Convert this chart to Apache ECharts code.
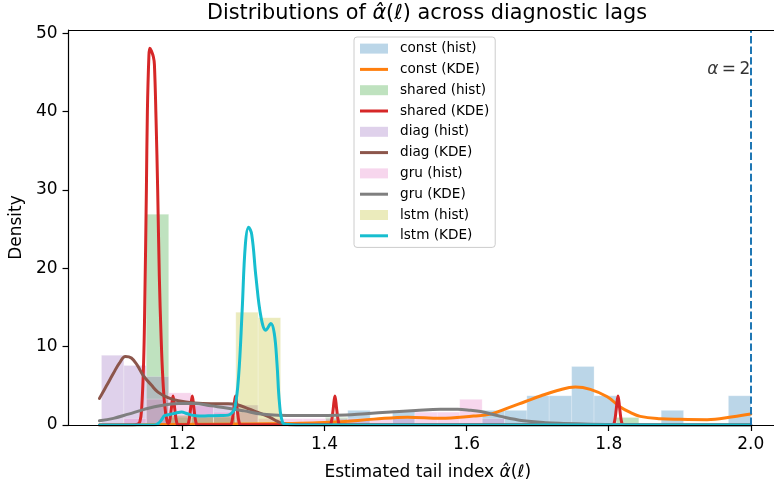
<!DOCTYPE html>
<html><head><meta charset="utf-8">
<script src="https://cdn.jsdelivr.net/npm/echarts@6/dist/echarts.min.js"></script>
<style>html,body{margin:0;padding:0;background:#fff}#c{width:774px;height:486px}</style>
</head><body><div id="c"></div>
<script>
// ---- data ----
const binEdges = [1.0860, 1.1175, 1.1490, 1.1806, 1.2121, 1.2436, 1.2751, 1.3066, 1.3381, 1.3697, 1.4012, 1.4327, 1.4642, 1.4957, 1.5272, 1.5588, 1.5903, 1.6218, 1.6533, 1.6848, 1.7163, 1.7479, 1.7794, 1.8109, 1.8424, 1.8739, 1.9054, 1.9370, 1.9685, 2.0000];

const constHist  = [0,0,0,0,0,0,0,0,0,0,0,1.87,0,1.87,0,0,0,1.87,1.87,3.73,3.73,7.46,3.73,0,0,1.87,0,0,3.73];
const sharedHist = [0,0,26.9,0.96,0.96,0.96,0,0,0,0,0.96,0,0,0,0,0,0,0,0,0,0,0,0,0.96,0,0,0,0,0];
const diagHist   = [8.9,7.6,6.2,1.27,2.54,2.54,2.54,0,0,0,0,0,0,0,0,0,0,0,0,0,0,0,0,0,0,0,0,0,0];
const gruHist    = [0,0.82,3.3,4.1,2.46,1.64,1.64,0.82,0.82,0.82,0.82,0.82,0.82,0.82,1.64,1.64,3.28,0.82,0,0,0,0,0,0,0,0,0,0,0];
const lstmHist   = [0,0,0,1.22,1.22,1.22,14.4,13.7,0,0,0,0,0,0,0,0,0,0,0,0,0,0,0,0,0,0,0,0,0];

const constKdeX = [1.0831, 1.1702, 1.2826, 1.3528, 1.3907, 1.4230, 1.4694, 1.5171, 1.5635, 1.6098, 1.6337, 1.6576, 1.6829, 1.7039, 1.7278, 1.7531, 1.7742, 1.7980, 1.8163, 1.8303, 1.8444, 1.8725, 1.9006, 1.9385, 1.9750, 2.0000];
const constKdeY = [0.0, 0.05, 0.12, 0.2, 0.28, 0.42, 0.75, 1.0, 0.85, 1.15, 1.39, 2.15, 3.0, 3.7, 4.4, 4.85, 4.55, 3.6, 2.3, 1.6, 1.1, 0.8, 0.72, 0.68, 1.05, 1.4];

const sharedKdeX = [1.0831, 1.1300, 1.1370, 1.1400, 1.1425, 1.1453, 1.1468, 1.1492, 1.1506, 1.1527, 1.1540, 1.1560, 1.1590, 1.1605, 1.1628, 1.1651, 1.1674, 1.1700, 1.1722, 1.1750, 1.1782, 1.1800, 1.1817, 1.1842, 1.1867, 1.1892, 1.1917, 1.1942, 1.2063, 1.2088, 1.2113, 1.2138, 1.2163, 1.2188, 1.2213, 1.2671, 1.2696, 1.2721, 1.2746, 1.2771, 1.2796, 1.2821, 1.4071, 1.4096, 1.4121, 1.4146, 1.4171, 1.4196, 1.4221, 1.8056, 1.8081, 1.8106, 1.8131, 1.8156, 1.8181, 1.8206, 2.0000];
const sharedKdeY = [0, 0, 0.1, 0.4, 2, 8, 14.7, 30, 40, 47, 48.1, 47.8, 47, 46, 39, 30, 19, 11, 6.2, 2.5, 0.5, 0.2, 0.4, 2.0, 3.7, 2.0, 0.4, 0.03, 0.03, 0.4, 2.0, 3.7, 2.0, 0.4, 0.03, 0.03, 0.4, 2.0, 3.7, 2.0, 0.4, 0.03, 0.03, 0.4, 2.0, 3.7, 2.0, 0.4, 0.03, 0.03, 0.4, 2.0, 3.7, 2.0, 0.4, 0.03, 0];

const diagKdeX = [1.0831, 1.0930, 1.1028, 1.1112, 1.1197, 1.1281, 1.1365, 1.1449, 1.1562, 1.1655, 1.1795, 1.1941, 1.2166, 1.2404, 1.2643, 1.2784, 1.2924, 1.3063, 1.3160, 1.3247, 1.3330, 1.3430, 1.3598, 2.0000];
const diagKdeY = [3.4, 5.0, 6.6, 7.9, 8.75, 8.55, 7.6, 6.3, 5.1, 4.2, 3.5, 3.1, 2.8, 2.7, 2.7, 2.55, 2.1, 1.6, 1.25, 0.9, 0.5, 0.12, 0.0, 0.0];

const gruKdeX = [1.0831, 1.1028, 1.1239, 1.1463, 1.1702, 1.1941, 1.2166, 1.2404, 1.2643, 1.2868, 1.3107, 1.3346, 1.3570, 1.4048, 1.4301, 1.4581, 1.4933, 1.5284, 1.5635, 1.5874, 1.6056, 1.6197, 1.6478, 1.6801, 1.7110, 1.7362, 1.7742, 1.8163, 1.8725, 2.0000];
const gruKdeY = [0.54, 0.85, 1.39, 2.0, 2.5, 2.73, 2.73, 2.44, 2.15, 1.8, 1.39, 1.26, 1.21, 1.21, 1.27, 1.45, 1.65, 1.85, 2.0, 2.0, 1.88, 1.72, 1.1, 0.54, 0.3, 0.2, 0.1, 0.03, 0.0, 0.0];

const lstmKdeX = [1.0831, 1.1600, 1.1660, 1.1716, 1.1744, 1.1800, 1.1870, 1.1940, 1.1987, 1.2058, 1.2128, 1.2240, 1.2362, 1.2550, 1.2643, 1.2690, 1.2737, 1.2790, 1.2840, 1.2885, 1.2930, 1.2975, 1.3035, 1.3105, 1.3175, 1.3245, 1.3292, 1.3330, 1.3365, 1.3410, 1.3480, 1.3600, 2.0000];
const lstmKdeY = [0, 0, 0.2, 0.8, 1.17, 1.3, 1.45, 1.6, 1.65, 1.47, 1.26, 1.15, 1.17, 1.2, 1.26, 1.5, 2.1, 6.2, 14.6, 23, 25.25, 24.3, 18.85, 13.8, 12.1, 12.95, 11.7, 7.9, 2.85, 0.33, 0.05, 0, 0];

const alphaRef = 2.0;
const alphaLabelY = 45.4;
const xTicks = [1.2, 1.4, 1.6, 1.8, 2.0];
const yTicks = [0, 10, 20, 30, 40, 50];

// ---- chart ----
const FONT = 'DejaVu Sans';
const lineIcon = 'path://M0,0H28V3H0Z';

function histData(h) {
  const out = [];
  for (let i = 0; i < h.length; i++) if (h[i] > 0) out.push([binEdges[i], binEdges[i + 1], h[i]]);
  return out;
}
function pairs(xs, ys) {
  const n = Math.min(xs.length, ys.length), out = [];
  for (let i = 0; i < n; i++) out.push([xs[i], ys[i]]);
  return out;
}
function histSeries(name, h, color) {
  return {
    name, type: 'custom', z: 1, silent: true,
    itemStyle: { color },
    encode: { x: [0, 1], y: 2 },
    data: histData(h),
    renderItem: (params, api) => {
      const p0 = api.coord([api.value(0), 0]);
      const p1 = api.coord([api.value(1), api.value(2)]);
      return {
        type: 'rect',
        shape: { x: p0[0], y: p1[1], width: p1[0] - p0[0], height: p0[1] - p1[1] },
        style: { fill: color, stroke: 'rgba(255,255,255,0.3)', lineWidth: 0.8 }
      };
    }
  };
}
function kdeSeries(name, xs, ys, color) {
  return {
    name, type: 'line', z: 3, silent: true, data: pairs(xs, ys),
    showSymbol: false, symbol: 'none', smooth: 0.4,
    lineStyle: { color, width: 3, cap: 'round', join: 'round' }, itemStyle: { color }
  };
}

const chart = echarts.init(document.getElementById('c'), null, { renderer: 'canvas' });
const italic = { fontFamily: FONT, fontStyle: 'italic', color: '#000' };

chart.setOption({
  animation: false,
  backgroundColor: '#fff',
  textStyle: { fontFamily: FONT },
  title: {
    text: 'Distributions of {i|\u03B1\u0302}({i|\u2113}) across diagnostic lags',
    left: 427, top: 3, textAlign: 'center', padding: 0,
    textStyle: { fontFamily: FONT, fontSize: 20.8, fontWeight: 'normal', color: '#000',
      rich: { i: Object.assign({ fontSize: 20.8 }, italic) } }
  },
  grid: { left: 67, right: 0, top: 30, bottom: 57, containLabel: false },
  legend: {
    orient: 'vertical', left: 354, top: 37,
    padding: [4.6, 6, 4.6, 6], itemGap: 6.8, itemWidth: 28, itemHeight: 10,
    selectedMode: false,
    backgroundColor: 'rgba(255,255,255,0.8)', borderColor: '#cccccc', borderWidth: 1, borderRadius: 3,
    itemStyle: { borderWidth: 0 },
    textStyle: { fontFamily: FONT, fontSize: 13.6, lineHeight: 13.6, color: '#000', padding: [0, 0, 0, 7] },
    data: [
      { name: 'const (hist)', icon: 'rect' }, { name: 'const (KDE)', icon: lineIcon },
      { name: 'shared (hist)', icon: 'rect' }, { name: 'shared (KDE)', icon: lineIcon },
      { name: 'diag (hist)', icon: 'rect' }, { name: 'diag (KDE)', icon: lineIcon },
      { name: 'gru (hist)', icon: 'rect' }, { name: 'gru (KDE)', icon: lineIcon },
      { name: 'lstm (hist)', icon: 'rect' }, { name: 'lstm (KDE)', icon: lineIcon }
    ]
  },
  xAxis: [{
    type: 'value', position: 'bottom', min: 1.0396, max: 2.0327, z: 5,
    name: 'Estimated tail index {i|\u03B1\u0302}({i|\u2113})',
    nameLocation: 'middle', nameGap: 39,
    nameTextStyle: { fontFamily: FONT, fontSize: 17, color: '#000', padding: [0, 0, 0, 13],
      rich: { i: Object.assign({ fontSize: 17 }, italic) } },
    axisLine: { show: true, onZero: false, lineStyle: { color: '#000', width: 1.2 } },
    axisTick: { show: true, length: 6, lineStyle: { color: '#000', width: 1.2 }, customValues: xTicks },
    axisLabel: { show: true, margin: 11, fontFamily: FONT, fontSize: 17, color: '#000',
      customValues: xTicks, formatter: v => Number(v).toFixed(1) },
    splitLine: { show: false }
  }, {
    type: 'value', position: 'top', min: 1.0396, max: 2.0327, z: 5,
    axisLine: { show: true, onZero: false, lineStyle: { color: '#000', width: 1.2 } },
    axisTick: { show: false }, axisLabel: { show: false }, splitLine: { show: false }
  }],
  yAxis: {
    type: 'value', min: 0, max: 50.42, z: 5,
    name: 'Density', nameLocation: 'middle', nameGap: 40,
    nameTextStyle: { fontFamily: FONT, fontSize: 17, color: '#000' },
    axisLine: { show: true, onZero: false, lineStyle: { color: '#000', width: 1.2 } },
    axisTick: { show: true, length: 6, lineStyle: { color: '#000', width: 1.2 }, customValues: yTicks },
    axisLabel: { show: true, margin: 11, fontFamily: FONT, fontSize: 17, color: '#000',
      customValues: yTicks, formatter: v => String(Math.round(v)) },
    splitLine: { show: false }
  },
  series: [
    histSeries('const (hist)', constHist, 'rgba(31,119,180,0.3)'),
    histSeries('shared (hist)', sharedHist, 'rgba(44,160,44,0.3)'),
    histSeries('diag (hist)', diagHist, 'rgba(148,103,189,0.3)'),
    histSeries('gru (hist)', gruHist, 'rgba(227,119,194,0.3)'),
    histSeries('lstm (hist)', lstmHist, 'rgba(188,189,34,0.3)'),
    kdeSeries('const (KDE)', constKdeX, constKdeY, '#ff7f0e'),
    kdeSeries('shared (KDE)', sharedKdeX, sharedKdeY, '#d62728'),
    kdeSeries('diag (KDE)', diagKdeX, diagKdeY, '#8c564b'),
    kdeSeries('gru (KDE)', gruKdeX, gruKdeY, '#7f7f7f'),
    kdeSeries('lstm (KDE)', lstmKdeX, lstmKdeY, '#17becf'),
    {
      name: 'alpha-ref', type: 'scatter', z: 4, silent: true,
      data: [[alphaRef, alphaLabelY]], symbolSize: 1, itemStyle: { color: 'rgba(0,0,0,0)' },
      label: { show: true, position: 'left', distance: 0, formatter: '{i|\u03B1}\u2009=\u20092',
        fontFamily: FONT, fontSize: 17, color: '#000',
        rich: { i: Object.assign({ fontSize: 17 }, italic) } },
      markLine: {
        silent: true, symbol: ['none', 'none'], label: { show: false },
        lineStyle: { color: '#1f77b4', width: 2, type: [7.4, 3.2] },
        data: [{ xAxis: alphaRef }]
      }
    }
  ]
});
</script>
</body></html>
